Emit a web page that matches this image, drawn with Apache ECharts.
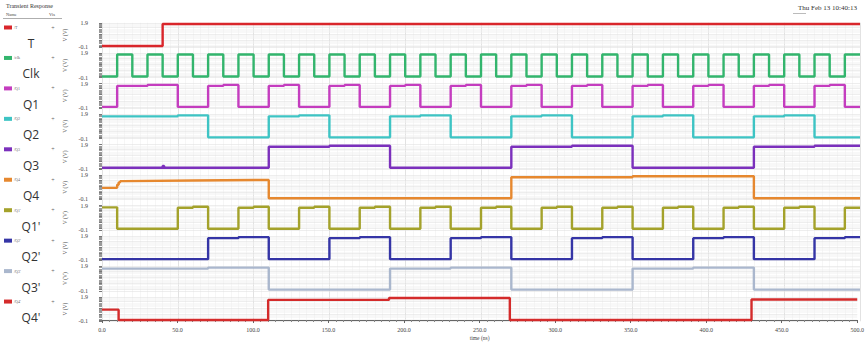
<!DOCTYPE html>
<html>
<head>
<meta charset="utf-8">
<script src="https://cdn.jsdelivr.net/npm/echarts@6/dist/echarts.min.js"></script>
<style>
  html, body { margin: 0; padding: 0; background: #ffffff; }
  #chart { width: 867px; height: 347px; }
</style>
</head>
<body>
<div id="chart"></div>
<script>
// ---- Signal names -------------------------------------------------------
const signalNames = ['T', 'Clk', 'Q1', 'Q2', 'Q3', 'Q4', "Q1'", "Q2'", "Q3'", "Q4'"];
const netNames = ['/T', '/clk', '/Q1', '/Q2', '/Q3', '/Q4', "/Q1'", "/Q2'", "/Q3'", "/Q4'"];
const signalColors = ['#d9262b', '#33b56d', '#c43dbf', '#3ec4c4', '#7b30bc',
                      '#e6882f', '#a4a22b', '#3535a6', '#aab7cd', '#d42b2b'];

// ---- Axis ticks ----------------------------------------------------------
const timeTicks = [0, 50, 100, 150, 200, 250, 300, 350, 400, 450, 500];
const voltTicks = [-0.1, 1.9];

// ---- Waveforms: [time (ns), voltage (V)], value held until next point ----
const waveT = [[0, 0], [40, 1.8], [500, 1.8]];

const waveClk = [[0, 0], [10, 1.8], [20, 0], [30, 1.8], [40, 0], [50, 1.8], [60, 0], [70, 1.8],
  [80, 0], [90, 1.8], [100, 0], [110, 1.8], [120, 0], [130, 1.8], [140, 0], [150, 1.8],
  [160, 0], [170, 1.8], [180, 0], [190, 1.8], [200, 0], [210, 1.8], [220, 0], [230, 1.8],
  [240, 0], [250, 1.8], [260, 0], [270, 1.8], [280, 0], [290, 1.8], [300, 0], [310, 1.8],
  [320, 0], [330, 1.8], [340, 0], [350, 1.8], [360, 0], [370, 1.8], [380, 0], [390, 1.8],
  [400, 0], [410, 1.8], [420, 0], [430, 1.8], [440, 0], [450, 1.8], [460, 0], [470, 1.8],
  [480, 0], [490, 1.8], [500, 1.8]];

const waveQ1 = [[0, 0], [10, 1.72], [30, 1.8], [50, 0], [70, 1.72], [80, 1.8], [90, 0],
  [110, 1.72], [120, 1.8], [130, 0], [150, 1.72], [160, 1.8], [170, 0], [190, 1.72], [200, 1.8],
  [210, 0], [230, 1.72], [240, 1.8], [250, 0], [270, 1.72], [280, 1.8], [290, 0], [310, 1.72],
  [320, 1.8], [330, 0], [350, 1.72], [360, 1.8], [370, 0], [390, 1.72], [400, 1.8], [410, 0],
  [430, 1.72], [440, 1.8], [450, 0], [470, 1.72], [480, 1.8], [490, 0], [500, 0]];

const waveQ2 = [[0, 1.72], [50, 1.8], [70, 0], [110, 1.72], [130, 1.8], [150, 0], [190, 1.72],
  [210, 1.8], [230, 0], [270, 1.72], [290, 1.8], [310, 0], [350, 1.72], [370, 1.8], [390, 0],
  [430, 1.72], [450, 1.8], [470, 0], [500, 0]];

const waveQ3 = [[0, 0], [40, 0.15], [41, 0], [110, 1.72], [150, 1.8], [190, 0], [270, 1.72],
  [310, 1.8], [350, 0], [430, 1.72], [470, 1.8], [500, 1.8]];

const waveQ4 = [[0, 0.85], [10, 1.1], [11, 1.3], [12, 1.4], [14, 1.45], [60, 1.5], [110, 0],
  [270, 1.72], [350, 1.8], [430, 0], [500, 0]];

const waveQ1n = [[0, 1.75], [10, 0], [50, 1.72], [60, 1.8], [70, 0], [90, 1.72], [100, 1.8],
  [110, 0], [130, 1.72], [140, 1.8], [150, 0], [170, 1.72], [180, 1.8], [190, 0], [210, 1.72],
  [220, 1.8], [230, 0], [250, 1.72], [260, 1.8], [270, 0], [290, 1.72], [300, 1.8], [310, 0],
  [330, 1.72], [340, 1.8], [350, 0], [370, 1.72], [380, 1.8], [390, 0], [410, 1.72], [420, 1.8],
  [430, 0], [450, 1.72], [460, 1.8], [470, 0], [490, 1.72], [500, 1.72]];

const waveQ2n = [[0, 0], [70, 1.72], [90, 1.8], [110, 0], [150, 1.72], [170, 1.8], [190, 0],
  [230, 1.72], [250, 1.8], [270, 0], [310, 1.72], [330, 1.8], [350, 0], [390, 1.72], [410, 1.8],
  [430, 0], [470, 1.72], [490, 1.8], [500, 1.8]];

const waveQ3n = [[0, 1.72], [70, 1.8], [110, 0], [190, 1.72], [230, 1.8], [270, 0], [350, 1.72],
  [390, 1.8], [430, 0], [500, 0]];

const waveQ4n = [[0, 0.85], [11, 0], [110, 1.65], [190, 1.8], [270, 0], [430, 1.68], [500, 1.68]];

const waves = [waveT, waveClk, waveQ1, waveQ2, waveQ3, waveQ4, waveQ1n, waveQ2n, waveQ3n, waveQ4n];

// ---- Layout ---------------------------------------------------------------
const PLOT_LEFT = 102, PLOT_RIGHT = 7;
const ROW_TOP = 22.8, ROW_PITCH = 30.45, ROW_H = 24.4;
const N = signalNames.length;
const SMALL_FONT = 'Liberation Serif';

const near = (a, b) => Math.abs(a - b) < 1e-6;

const grids = [], xAxes = [], yAxes = [], series = [];
for (let i = 0; i < N; i++) {
  const last = i === N - 1;
  grids.push({ left: PLOT_LEFT, right: PLOT_RIGHT, top: ROW_TOP + ROW_PITCH * i, height: ROW_H });
  xAxes.push({
    type: 'value', gridIndex: i, min: 0, max: 500, interval: 50,
    axisLine: { show: last, lineStyle: { color: '#666', width: 1 } },
    axisTick: { show: last, length: 3, lineStyle: { color: '#666' } },
    minorTick: { show: last, splitNumber: 10, length: 2, lineStyle: { color: '#888' } },
    axisLabel: {
      show: last, fontSize: 6, color: '#444', fontFamily: SMALL_FONT, margin: 6,
      formatter: v => timeTicks.includes(v) ? v.toFixed(1) : ''
    },
    splitLine: { show: false },
    name: last ? 'time (ns)' : '', nameLocation: 'middle', nameGap: 14,
    nameTextStyle: { fontSize: 5.5, color: '#444', fontFamily: SMALL_FONT }
  });
  yAxes.push({
    type: 'value', gridIndex: i, min: voltTicks[0], max: voltTicks[1], offset: 5,
    axisLine: { show: false },
    axisTick: { show: true, length: 3, lineStyle: { color: '#777' } },
    minorTick: { show: true, splitNumber: 5, length: 3, lineStyle: { color: '#999' } },
    axisLabel: {
      fontSize: 6, color: '#444', fontFamily: SMALL_FONT, margin: 9,
      formatter: v => voltTicks.some(t => near(t, v)) ? v.toFixed(1) : ''
    },
    splitLine: { show: true, lineStyle: { color: '#e2e2e2', width: 0.6 } },
    minorSplitLine: { show: true, lineStyle: { color: '#f0f0f0', width: 0.5 } },
    name: 'V (V)', nameLocation: 'middle', nameGap: 19,
    nameTextStyle: { fontSize: 5.5, color: '#444', fontFamily: SMALL_FONT }
  });
  series.push({
    name: signalNames[i], type: 'line', step: 'end', xAxisIndex: i, yAxisIndex: i,
    data: waves[i], showSymbol: false, silent: true, animation: false,
    lineStyle: { color: signalColors[i], width: 2.4 },
    itemStyle: { color: signalColors[i] }
  });
}

// Shared vertical time grid behind all rows
grids.push({ left: PLOT_LEFT, right: PLOT_RIGHT, top: ROW_TOP, height: ROW_PITCH * (N - 1) + ROW_H, z: -1 });
xAxes.push({
  type: 'value', gridIndex: N, min: 0, max: 500, interval: 50, z: -1,
  axisLine: { show: false }, axisTick: { show: false }, axisLabel: { show: false },
  splitLine: { show: true, lineStyle: { color: '#d6d6d6', width: 0.7 } },
  minorTick: { show: false, splitNumber: 10 },
  minorSplitLine: { show: true, lineStyle: { color: '#ececec', width: 0.5 } }
});
yAxes.push({ type: 'value', gridIndex: N, show: false, min: 0, max: 1, splitLine: { show: false } });

// ---- Signal list panel on the left ---------------------------------------
const graphics = [
  { type: 'text', left: 6, top: 3, style: { text: 'Transient Response', fontSize: 6, fill: '#333', fontFamily: SMALL_FONT } },
  { type: 'text', left: 6, top: 12, style: { text: 'Name', fontSize: 4.5, fill: '#444', fontFamily: SMALL_FONT } },
  { type: 'text', left: 49, top: 12, style: { text: 'Vis', fontSize: 4.5, fill: '#444', fontFamily: SMALL_FONT } },
  { type: 'line', shape: { x1: 3, y1: 18.5, x2: 62, y2: 18.5 }, style: { stroke: '#999', lineWidth: 0.8 } },
  { type: 'text', right: 10, top: 4, style: { text: 'Thu Feb 13 10:40:13', fontSize: 7, fill: '#333', fontFamily: SMALL_FONT } },
  { type: 'line', shape: { x1: 793, y1: 13.5, x2: 806, y2: 13.5 }, style: { stroke: '#aaa', lineWidth: 0.8 } }
];
for (let i = 0; i < N; i++) {
  const sy = 27.5 + ROW_PITCH * i;
  const ly = 43.5 + ROW_PITCH * i;
  graphics.push(
    { type: 'rect', shape: { x: 4, y: sy - 2, width: 8, height: 4 }, style: { fill: signalColors[i] } },
    { type: 'text', x: 14, y: sy, style: { text: netNames[i], fontSize: 4, fill: '#666', fontFamily: SMALL_FONT, verticalAlign: 'middle' } },
    { type: 'text', x: 53, y: sy, style: { text: '+', fontSize: 6, fill: '#666', fontFamily: SMALL_FONT, align: 'center', verticalAlign: 'middle' } },
    { type: 'text', x: 31, y: ly, style: { text: signalNames[i], fontSize: 12, fill: '#333', fontFamily: 'Open Sans', align: 'center', verticalAlign: 'middle' } }
  );
}

const chart = echarts.init(document.getElementById('chart'), null, { renderer: 'svg' });
chart.setOption({
  animation: false,
  backgroundColor: '#ffffff',
  grid: grids,
  xAxis: xAxes,
  yAxis: yAxes,
  series: series,
  graphic: graphics
});
</script>
</body>
</html>
